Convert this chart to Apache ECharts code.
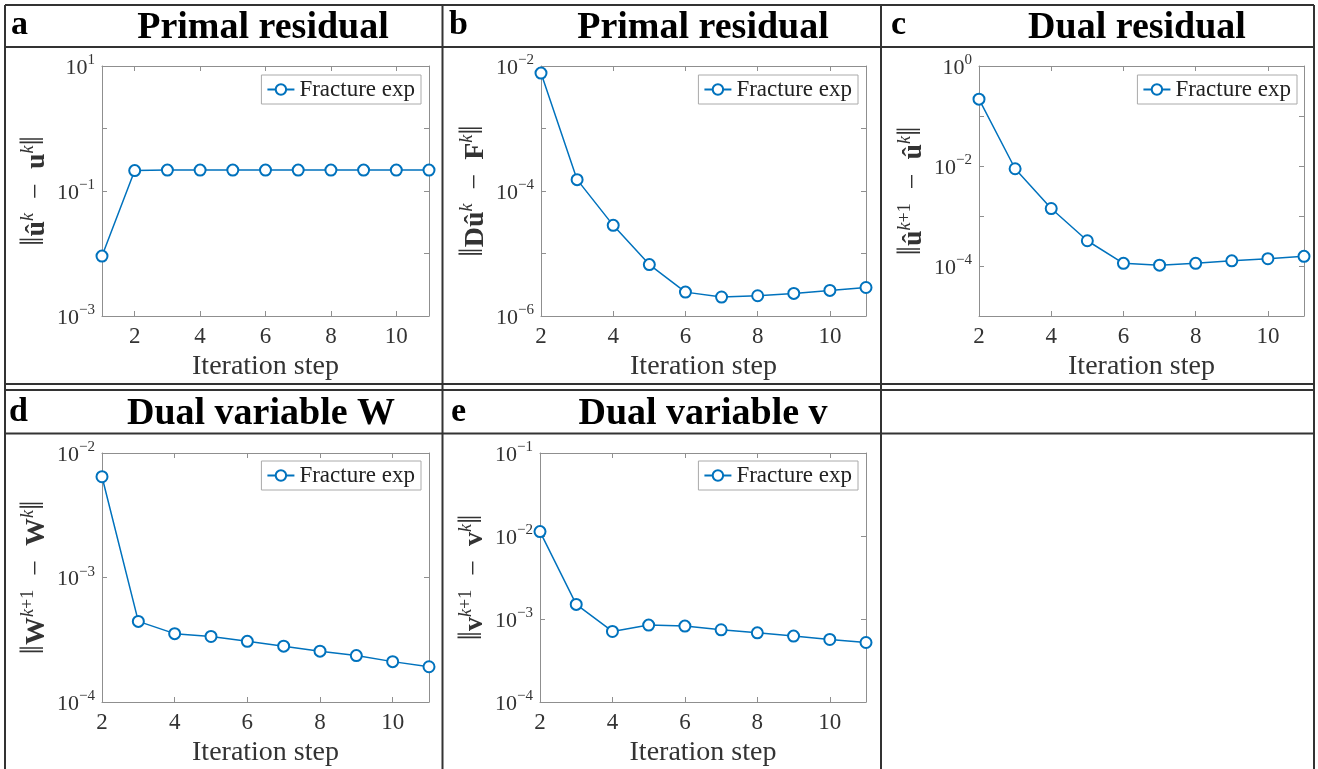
<!DOCTYPE html>
<html><head><meta charset="utf-8">
<script src="https://cdn.jsdelivr.net/npm/echarts@6/dist/echarts.min.js"></script>
<style>html,body{margin:0;padding:0;background:#fff}#c{width:1318px;height:769px}</style>
</head><body><div id="c"></div>
<script>
// ---------- data ----------
const iterA = [1, 2, 3, 4, 5, 6, 7, 8, 9, 10, 11];
const iterB = [2, 3, 4, 5, 6, 7, 8, 9, 10, 11];
const primalResA = [0.0091, 0.212, 0.216, 0.216, 0.216, 0.216, 0.216, 0.216, 0.216, 0.216, 0.216];
const primalResB = [7.7e-3, 1.52e-4, 2.82e-5, 6.65e-6, 2.41e-6, 2.01e-6, 2.11e-6, 2.30e-6, 2.57e-6, 2.86e-6];
const dualResC = [0.217, 8.8e-3, 1.41e-3, 3.2e-4, 1.13e-4, 1.04e-4, 1.13e-4, 1.27e-4, 1.40e-4, 1.56e-4];
const dualVarW = [6.45e-3, 4.44e-4, 3.54e-4, 3.36e-4, 3.07e-4, 2.81e-4, 2.56e-4, 2.36e-4, 2.11e-4, 1.92e-4];
const dualVarV = [1.13e-2, 1.50e-3, 7.08e-4, 8.44e-4, 8.21e-4, 7.41e-4, 6.81e-4, 6.22e-4, 5.67e-4, 5.21e-4];

const xTickLabels = [2, 4, 6, 8, 10];
const yTickExpA = [-3, -1, 1];
const yTickExpB = [-6, -4, -2];
const yTickExpC = [-4, -2, 0];
const yTickExpD = [-4, -3, -2];
const yTickExpE = [-4, -3, -2, -1];
const yRangeA = [1e-3, 1e1];
const yRangeB = [1e-6, 1e-2];
const yRangeC = [1e-5, 1e0];
const yRangeD = [1e-4, 1e-2];
const yRangeE = [1e-4, 1e-1];
const xRangeA = [1, 11];
const xRangeB = [2, 11];

const letters = ['a', 'b', 'c', 'd', 'e'];
const titles = ['Primal residual', 'Primal residual', 'Dual residual', 'Dual variable W', 'Dual variable v'];
const yNames = [
  '{bar|‖}{b|û}{s|k}{n|  −  }{b|u}{s|k}{bar|‖}',
  '{bar|‖}{b|Dû}{s|k}{n|  −  }{b|F}{s|k}{bar|‖}',
  '{bar|‖}{b|û}{s|k}{sr|+1}{n|  −  }{b|û}{s|k}{bar|‖}',
  '{bar|‖}{b|W}{s|k}{sr|+1}{n|  −  }{b|W}{s|k}{bar|‖}',
  '{bar|‖}{b|v}{s|k}{sr|+1}{n|  −  }{b|v}{s|k}{bar|‖}'
];
const xName = 'Iteration step';
const seriesName = 'Fracture exp';

const panelX = [iterA, iterB, iterB, iterB, iterB];
const panelY = [primalResA, primalResB, dualResC, dualVarW, dualVarV];
const panelXRange = [xRangeA, xRangeB, xRangeB, xRangeB, xRangeB];
const panelYRange = [yRangeA, yRangeB, yRangeC, yRangeD, yRangeE];
const panelYTicks = [yTickExpA, yTickExpB, yTickExpC, yTickExpD, yTickExpE];

// ---------- layout & style ----------
const FONT = "'Liberation Serif', 'Times New Roman', serif";
const BLUE = '#0072BD';
const FRAME = '#8f8f8f';
const TXT = '#333';
const grids = [
  {left: 102, top: 66, width: 327, height: 250},
  {left: 541, top: 66, width: 325, height: 250},
  {left: 979, top: 66, width: 325, height: 250},
  {left: 102, top: 453, width: 327, height: 249},
  {left: 540, top: 453, width: 326, height: 249}
];
const legendPos = [
  {right: 897, top: 75}, {right: 460, top: 75}, {right: 21, top: 75},
  {right: 897, top: 461}, {right: 460, top: 461}
];
const letterPos = [
  {left: 11, top: 8}, {left: 449, top: 8}, {left: 891, top: 8},
  {left: 9, top: 395}, {left: 451, top: 395}
];
const titleCenter = [263, 703, 1137, 261, 703];
const titleTop = [9, 9, 9, 395, 395];

const supRich = {
  b: {fontFamily: FONT, fontSize: 22, lineHeight: 26, verticalAlign: 'bottom', color: TXT},
  s: {fontFamily: FONT, fontSize: 15, lineHeight: 15, verticalAlign: 'top', color: TXT}
};
const nameRich = {
  bar: {fontFamily: FONT, fontSize: 34, lineHeight: 32, verticalAlign: 'bottom', color: TXT},
  n: {fontFamily: FONT, fontSize: 28, lineHeight: 32, verticalAlign: 'bottom', color: TXT},
  b: {fontFamily: FONT, fontSize: 28, fontWeight: 'bold', lineHeight: 32, verticalAlign: 'bottom', color: TXT},
  s: {fontFamily: FONT, fontSize: 18, fontStyle: 'italic', lineHeight: 18, verticalAlign: 'top', color: TXT},
  sr: {fontFamily: FONT, fontSize: 18, lineHeight: 18, verticalAlign: 'top', color: TXT}
};

function expLabel(ticks) {
  return function (v) {
    const n = Math.round(Math.log10(v));
    if (ticks.indexOf(n) < 0) return '';
    return '{b|10}{s|' + (n < 0 ? '−' + (-n) : String(n)) + '}';
  };
}

const xAxes = [], yAxes = [], series = [], legends = [], titleComps = [];
for (let i = 0; i < 5; i++) {
  const xr = panelXRange[i], yr = panelYRange[i];
  xAxes.push({
    type: 'value', gridIndex: i, min: xr[0], max: xr[1], position: 'bottom',
    name: xName, nameLocation: 'middle', nameGap: 37,
    nameTextStyle: {fontFamily: FONT, fontSize: 28, color: TXT},
    axisLine: {show: true, lineStyle: {color: FRAME, width: 1}},
    axisTick: {show: true, inside: true, length: 5, lineStyle: {color: FRAME}, customValues: xTickLabels},
    axisLabel: {show: true, margin: 9, fontFamily: FONT, fontSize: 23, color: TXT, customValues: xTickLabels},
    splitLine: {show: false}
  });
  yAxes.push({
    type: 'log', logBase: 10, gridIndex: i, min: yr[0], max: yr[1], position: 'left',
    name: yNames[i], nameLocation: 'middle', nameGap: 51, nameRotate: 90,
    nameTextStyle: {fontFamily: FONT, fontSize: 28, color: TXT, rich: nameRich},
    axisLine: {show: true, lineStyle: {color: FRAME, width: 1}},
    axisTick: {show: true, inside: true, length: 5, lineStyle: {color: FRAME}},
    axisLabel: {show: true, margin: 7, formatter: expLabel(panelYTicks[i]), rich: supRich},
    splitLine: {show: false}
  });
  legends.push(Object.assign({
    data: [seriesName], orient: 'horizontal', selectedMode: false,
    padding: [3, 6, 3, 5], borderColor: '#aaa', borderWidth: 1, backgroundColor: '#fff',
    itemWidth: 27, itemHeight: 13,
    textStyle: {fontFamily: FONT, fontSize: 23, color: '#222'}
  }, legendPos[i]));
  series.push({
    type: 'line', name: seriesName, xAxisIndex: i, yAxisIndex: i,
    data: panelX[i].map((x, k) => [x, panelY[i][k]]),
    symbol: 'emptyCircle', symbolSize: 11, showSymbol: true,
    lineStyle: {color: BLUE, width: 1.5},
    itemStyle: {color: BLUE, borderColor: BLUE, borderWidth: 1.5},
    emphasis: {disabled: true}, z: 3
  });
  titleComps.push(Object.assign({
    text: letters[i], padding: 0,
    textStyle: {fontFamily: FONT, fontWeight: 'bold', fontSize: 34, color: '#000'}
  }, letterPos[i]));
  titleComps.push({
    text: titles[i], left: titleCenter[i], top: titleTop[i], textAlign: 'center', padding: 0,
    textStyle: {fontFamily: FONT, fontWeight: 'bold', fontSize: 38, color: '#000'}
  });
}
// mirror axes (top / right) for the boxed look
for (let i = 0; i < 5; i++) {
  const xr = panelXRange[i], yr = panelYRange[i];
  xAxes.push({
    type: 'value', gridIndex: i, min: xr[0], max: xr[1], position: 'top',
    axisLine: {show: true, onZero: false, lineStyle: {color: FRAME, width: 1}},
    axisTick: {show: true, inside: true, length: 5, lineStyle: {color: FRAME}, customValues: xTickLabels},
    axisLabel: {show: false}, splitLine: {show: false}
  });
  yAxes.push({
    type: 'log', logBase: 10, gridIndex: i, min: yr[0], max: yr[1], position: 'right',
    axisLine: {show: true, lineStyle: {color: FRAME, width: 1}},
    axisTick: {show: true, inside: true, length: 5, lineStyle: {color: FRAME}},
    axisLabel: {show: false}, splitLine: {show: false}
  });
}

// table rules
const RULE = {stroke: '#333', lineWidth: 2};
const hLines = [5, 47, 384, 390, 433.5];
const vLines = [5, 442.5, 881, 1314];
const graphics = [];
hLines.forEach(y => graphics.push({type: 'line', silent: true, shape: {x1: 5, y1: y, x2: 1314, y2: y}, style: RULE}));
vLines.forEach(x => graphics.push({type: 'line', silent: true, shape: {x1: x, y1: 5, x2: x, y2: 769}, style: RULE}));

const chart = echarts.init(document.getElementById('c'), null, {renderer: 'canvas'});
chart.setOption({
  animation: false,
  backgroundColor: '#fff',
  title: titleComps,
  legend: legends,
  grid: grids.map(g => Object.assign({containLabel: false}, g)),
  xAxis: xAxes,
  yAxis: yAxes,
  series: series,
  graphic: graphics
});
</script></body></html>
